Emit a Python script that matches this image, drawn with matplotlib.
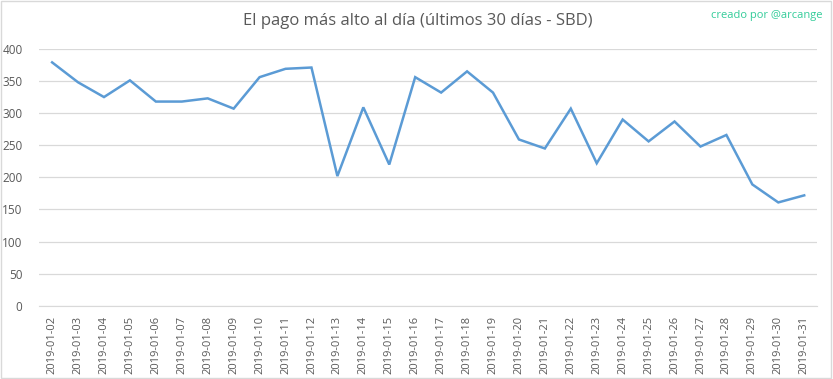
import matplotlib
matplotlib.use("Agg")
import matplotlib.pyplot as plt
from matplotlib.patches import Rectangle

# data
dates = [f"2019-01-{d:02d}" for d in range(2, 32)]
max_payout = [379, 348, 325, 351, 318, 318, 323, 307, 356, 369,
              371, 202, 309, 220, 356, 332, 365, 332, 259, 245,
              307, 222, 290, 256, 287, 248, 266, 189, 161, 172]
y_ticks = [0, 50, 100, 150, 200, 250, 300, 350, 400]

TITLE = "El pago más alto al día (últimos 30 días - SBD)"
CREDIT = "creado por @arcange"

plt.rcParams["font.family"] = ["Open Sans", "DejaVu Sans"]

fig = plt.figure(figsize=(8.33, 3.79), dpi=100)
ax = fig.add_axes([0.047, 0.193, 0.934, 0.678])

x = list(range(len(dates)))
ax.plot(x, max_payout, color="#5b9bd5", linewidth=1.8, solid_joinstyle="miter")

ax.set_xlim(-0.5, len(dates) - 0.5)
ax.set_ylim(0, 400)
ax.set_yticks(y_ticks)
ax.set_xticks(x)
ax.set_xticklabels(dates, rotation=90, fontsize=8, color="#595959")
ax.tick_params(axis="y", labelsize=8.5, labelcolor="#595959", length=0, pad=12)
ax.tick_params(axis="x", length=0, pad=7)
ax.grid(axis="y", color="#d9d9d9", linewidth=0.9)
ax.set_axisbelow(True)
for side in ["top", "right", "left"]:
    ax.spines[side].set_visible(False)
ax.spines["bottom"].set_color("#d9d9d9")

fig.text(0.502, 0.945, TITLE, ha="center", va="center",
         fontsize=12, color="#595959")
fig.text(0.987, 0.96, CREDIT, ha="right", va="center",
         fontsize=8, color="#33cc99")

# light border around the chart
fig.patches.append(Rectangle((0.001, 0.002), 0.997, 0.995, transform=fig.transFigure,
                             fill=False, edgecolor="#d9d9d9", linewidth=1))

fig.savefig("out.png", dpi=100)
